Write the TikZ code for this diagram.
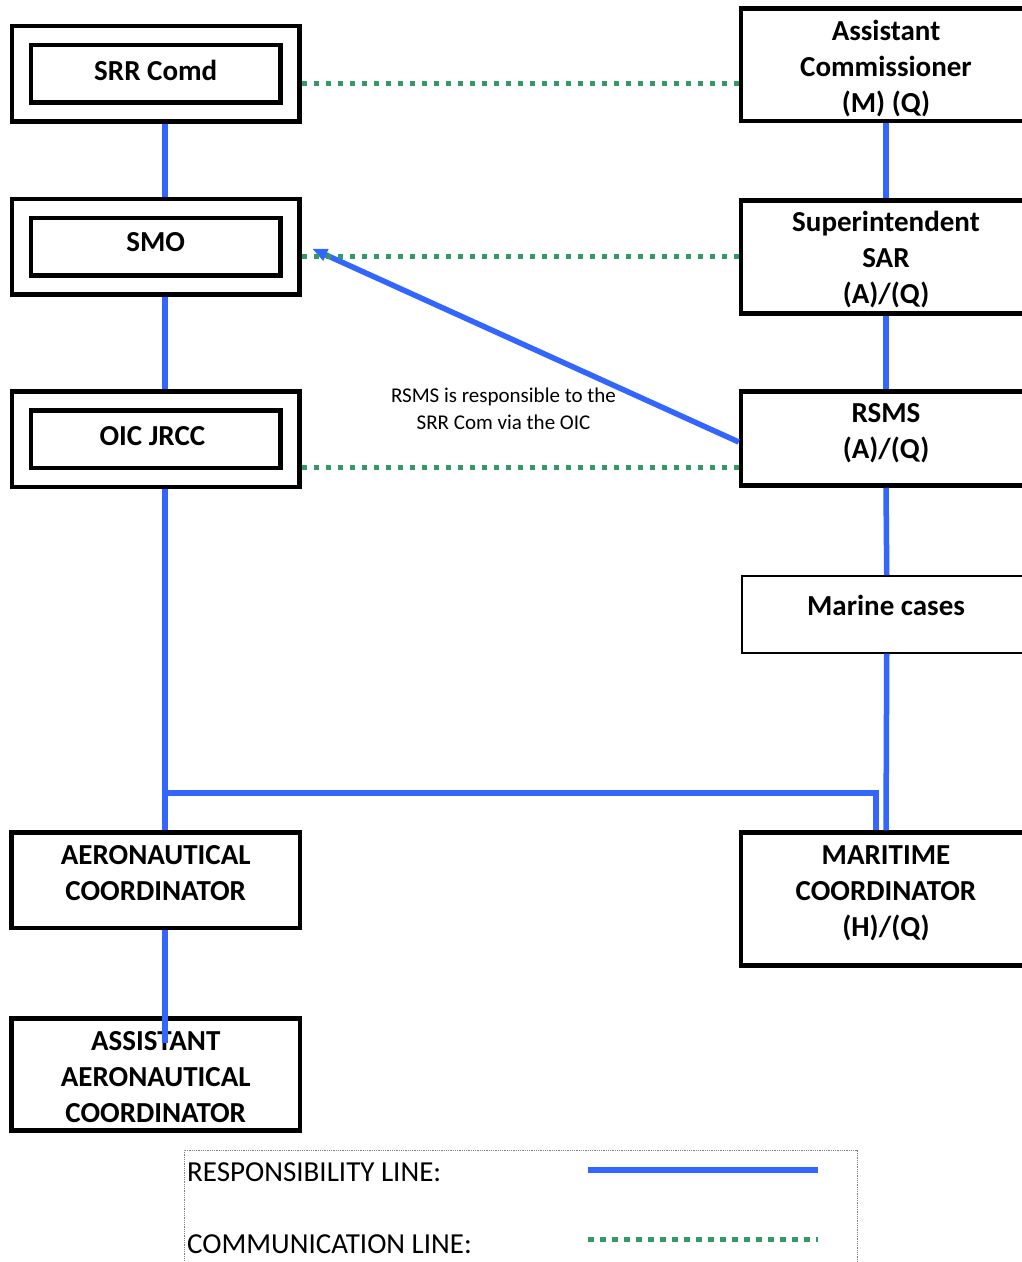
\documentclass[tikz,border=0pt]{standalone}
\usepackage{fontspec}
\setmainfont{Carlito}
\usetikzlibrary{arrows.meta,calc}
\definecolor{respblue}{HTML}{3366FF}
\definecolor{commgreen}{HTML}{339966}
\begin{document}
\begin{tikzpicture}[
    x=1pt,
    y=-1pt,
    box/.style={draw, line width=4.5pt, inner sep=0pt},
    boxtext/.style={align=center, inner sep=0pt, font=\bfseries\fontsize{29}{36}\selectfont},
    legtext/.style={anchor=west, inner sep=0pt, font=\fontsize{29}{36}\selectfont},
    resp/.style={draw=respblue, line width=5.5pt},
    comm/.style={draw=commgreen, line width=5pt, dash pattern=on 5.5pt off 6.5pt}
]
\useasboundingbox (0,0) rectangle (1022,1262);
\clip (0,0) rectangle (1022,1262);

% Left column: double boxes
\foreach \n/\y/\ty/\t in {
    srr/73.75/70/SRR Comd,
    smo/246.75/242.5/SMO,
    oic/439/436/OIC JRCC
} {
    \node[box, minimum width=287.5pt, minimum height=95.5pt] (\n) at (155.75,\y) {};
    \node[box, minimum width=249.5pt, minimum height=57.5pt] (\n-in) at (155.75,\y) {};
    \node[boxtext] (\n-t) at (155.75,\ty) {\t};
}

% Left column: coordinators
\node[box, minimum width=288.5pt, minimum height=95.5pt] (aero) at (155.75,880.25) {};
\node[boxtext] (aero-t) at (155.75,873) {AERONAUTICAL\\COORDINATOR};
\node[box, minimum width=288.5pt, minimum height=112pt] (asst) at (155.75,1074.5) {};
\node[boxtext] (asst-t) at (155.75,1077) {ASSISTANT\\AERONAUTICAL\\COORDINATOR};

% Right column
\foreach \n/\y/\h in {acomm/64.75/112.5, super/257/113, rsms/438.5/94, mari/899/133} {
    \node[box, minimum width=290pt, minimum height=\h pt] (\n) at (886,\y) {};
}
\node[boxtext] (acomm-t) at (886,68.5) {Assistant\\Commissioner\\(M) (Q)};
\node[boxtext] (super-t) at (886,260) {Superintendent\\SAR\\(A)/(Q)};
\node[boxtext] (rsms-t) at (886,433) {RSMS\\(A)/(Q)};
\node[boxtext] (mari-t) at (886,893) {MARITIME\\COORDINATOR\\(H)/(Q)};
\node[draw, line width=2pt, minimum width=289pt, minimum height=76.5pt] (marine) at (886.75,614.25) {};
\node[boxtext] (marine-t) at (886,605) {Marine cases};

% Note
\node[align=center, font=\fontsize{21}{27}\selectfont] (note) at (503.5,409)
    {RSMS is responsible to the\\SRR Com via the OIC};

% Responsibility lines
\coordinate (lx) at (165,0);
\coordinate (jn) at (165,793);
\coordinate (aend) at (165,1043);
\draw[resp] (srr.south -| lx) -- (smo.north -| lx);
\draw[resp] (smo.south -| lx) -- (oic.north -| lx);
\draw[resp] (oic.south -| lx) -- (aero.north -| lx);
\draw[resp] (jn) -| ([xshift=-10pt]mari.north);
\draw[resp] (aero.south -| lx) -- (aend);
\draw[resp] (acomm.south) -- (super.north);
\draw[resp] (super.south) -- (rsms.north);
\draw[resp] (rsms.south) -- (marine.north);
\draw[resp] (marine.south) -- (mari.north);
\draw[resp, -{Triangle[length=15pt, width=12pt]}] ([yshift=-3.5pt]rsms.west) -- ([shift={(10.5pt,-2pt)}]smo.east);

% Communication lines
\draw[comm] ($(srr.east)+(0,9.25)$) -- ($(acomm.west |- srr.east)+(0,9.25)$);
\draw[comm] ($(smo.east)+(0,9.25)$) -- ($(super.west |- smo.east)+(0,9.25)$);
\draw[comm] ($(oic.east)+(0,28)$) -- ($(rsms.west |- oic.east)+(0,28)$);

% Legend
\node[draw=gray, densely dotted, line width=0.8pt, minimum width=673pt, minimum height=130pt] (legend) at (520.5,1215) {};
\node[legtext] (resp-l) at (187,1172) {RESPONSIBILITY LINE:};
\node[legtext] (comm-l) at (187,1244) {COMMUNICATION LINE:};
\coordinate (resp-a) at (588,1170);
\coordinate (resp-b) at (818,1170);
\coordinate (comm-a) at (588,1239);
\coordinate (comm-b) at (818,1239);
\draw[resp] (resp-a) -- (resp-b);
\draw[comm] (comm-a) -- (comm-b);

\end{tikzpicture}
\end{document}
